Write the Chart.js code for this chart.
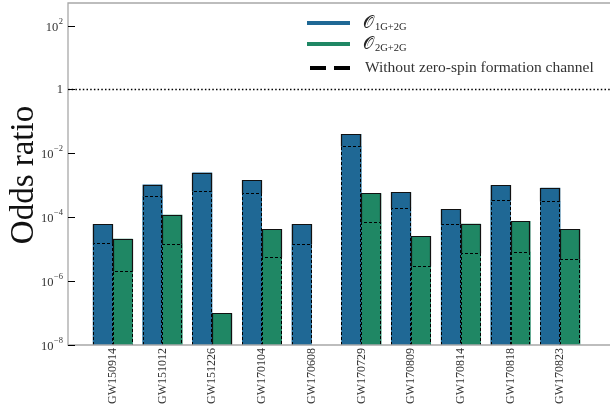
<!DOCTYPE html>
<html>
<head>
<meta charset="utf-8">
<script src="https://cdn.jsdelivr.net/npm/chart.js@4.4.0/dist/chart.umd.min.js"></script>
<style>
  html, body { margin: 0; padding: 0; background: #fff; }
  #wrap { width: 610px; height: 407px; }
</style>
</head>
<body>
<div id="wrap"><canvas id="oddsChart"></canvas></div>
<script>
const events = ['GW150914','GW151012','GW151226','GW170104','GW170608','GW170729','GW170809','GW170814','GW170818','GW170823'];
const odds1G = [6.0e-5, 1.05e-3, 2.5e-3, 1.45e-3, 6.0e-5, 4.0e-2, 6.0e-4, 1.8e-4, 1.0e-3, 8.3e-4];
const odds1GNoZero = [1.6e-5, 4.6e-4, 6.5e-4, 5.9e-4, 1.4e-5, 1.7e-2, 2.0e-4, 6.0e-5, 3.5e-4, 3.2e-4];
const odds2G = [2.1e-5, 1.2e-4, 9.7e-8, 4.2e-5, null, 5.6e-4, 2.6e-5, 6.2e-5, 7.6e-5, 4.2e-5];
const odds2GNoZero = [2.0e-6, 1.5e-5, null, 5.6e-6, null, 6.9e-5, 2.9e-6, 7.5e-6, 8.3e-6, 4.9e-6];
const yTickExps = [-8, -6, -4, -2, 0, 2];

const BLUE = '#1f6895';
const GREEN = '#1f8764';
const SERIF = '"Liberation Serif", "DejaVu Serif", serif';

function points(arr){ return arr.map((v, i) => ({ x: i, y: v })); }

// outlines the "without zero-spin" bars with dashes, plus frame, ticks and legend
const decorations = {
    id: 'decorations',
    afterDatasetsDraw(chart){
        const ctx = chart.ctx;
        const area = chart.chartArea;
        const y = chart.scales.y;

        // solid edges of the full bars (sides stay solid only above the dashed part)
        ctx.save();
        ctx.strokeStyle = '#111';
        ctx.lineWidth = 1.2;
        chart.data.datasets.forEach((ds, di) => {
            if(ds.dashed) return;
            const meta = chart.getDatasetMeta(di);
            const inner = chart.getDatasetMeta(di - 2);
            meta.data.forEach((bar, i) => {
                if(ds.data[i].y == null) return;
                const l = Math.round(bar.x - bar.width / 2) + 0.5;
                const r = Math.round(bar.x + bar.width / 2) - 0.5;
                const t = Math.round(bar.y) + 0.5;
                const low = inner.data[i] && ds.dashedRef && chart.data.datasets[di - 2].data[i].y != null
                    ? Math.round(inner.data[i].y) + 0.5 : bar.base;
                ctx.beginPath();
                ctx.moveTo(l, low);
                ctx.lineTo(l, t);
                ctx.lineTo(r, t);
                ctx.lineTo(r, low);
                ctx.stroke();
            });
        });
        ctx.restore();

        // dashed outlines
        ctx.save();
        ctx.strokeStyle = '#000';
        ctx.lineWidth = 1;
        ctx.setLineDash([3, 2]);
        chart.data.datasets.forEach((ds, di) => {
            if(!ds.dashed) return;
            const meta = chart.getDatasetMeta(di);
            meta.data.forEach((bar, i) => {
                if(ds.data[i].y == null) return;
                const l = Math.round(bar.x - bar.width / 2) + 0.5;
                const r = Math.round(bar.x + bar.width / 2) - 0.5;
                const t = Math.round(bar.y) + 0.5;
                ctx.beginPath();
                ctx.moveTo(l, bar.base);
                ctx.lineTo(l, t);
                ctx.lineTo(r, t);
                ctx.lineTo(r, bar.base);
                ctx.stroke();
            });
        });
        ctx.restore();

        // dotted reference line at odds = 1
        ctx.save();
        const y1 = Math.round(y.getPixelForValue(1)) + 0.5;
        ctx.strokeStyle = '#000';
        ctx.lineWidth = 1.4;
        ctx.setLineDash([1.5, 2.2]);
        ctx.beginPath();
        ctx.moveTo(area.left, y1);
        ctx.lineTo(area.right, y1);
        ctx.stroke();
        ctx.restore();

        // frame
        ctx.save();
        ctx.strokeStyle = '#a8a8a8';
        ctx.lineWidth = 1.3;
        ctx.beginPath();
        ctx.moveTo(area.right, area.top);
        ctx.lineTo(area.left, area.top);
        ctx.lineTo(area.left, area.bottom);
        ctx.lineTo(area.right, area.bottom);
        ctx.stroke();
        ctx.restore();

        // inward y ticks and labels
        ctx.save();
        ctx.strokeStyle = '#000';
        ctx.lineWidth = 1;
        ctx.fillStyle = '#333';
        ctx.textBaseline = 'middle';
        ctx.textAlign = 'right';
        yTickExps.forEach(e => {
            const py = Math.round(y.getPixelForValue(Math.pow(10, e))) + 0.5;
            ctx.beginPath();
            ctx.moveTo(area.left, py);
            ctx.lineTo(area.left + 7, py);
            ctx.stroke();
            const right = area.left - 5;
            if(e === 0){
                ctx.font = '12.5px ' + SERIF;
                ctx.fillText('1', right, py);
            } else {
                const sup = e < 0 ? '\u2212' + Math.abs(e) : String(e);
                ctx.font = '8.5px ' + SERIF;
                const w = ctx.measureText(sup).width;
                ctx.fillText(sup, right, py - 5);
                ctx.font = '12.5px ' + SERIF;
                ctx.fillText('10', right - w - 0.5, py + 1);
            }
        });
        ctx.restore();

        // y axis title
        ctx.save();
        ctx.translate(33, 175);
        ctx.rotate(-Math.PI / 2);
        ctx.fillStyle = '#111';
        ctx.font = '33px ' + SERIF;
        ctx.textAlign = 'center';
        ctx.textBaseline = 'alphabetic';
        ctx.fillText('Odds ratio', 0, 0);
        ctx.restore();

        // legend
        ctx.save();
        const rows = [
            { color: BLUE, sub: '1G+2G', y: 23 },
            { color: GREEN, sub: '2G+2G', y: 44 }
        ];
        rows.forEach(row => {
            ctx.strokeStyle = row.color;
            ctx.lineWidth = 4;
            ctx.beginPath();
            ctx.moveTo(307, row.y);
            ctx.lineTo(350, row.y);
            ctx.stroke();
            ctx.fillStyle = '#222';
            ctx.textBaseline = 'alphabetic';
            ctx.textAlign = 'left';
            ctx.font = '17px ' + SERIF;
            ctx.fillText('\u{1D4AA}', 363, row.y + 5);
            const ow = ctx.measureText('\u{1D4AA}').width;
            ctx.font = '10.5px ' + SERIF;
            ctx.fillText(row.sub, 363 + ow + 1, row.y + 7);
        });
        ctx.strokeStyle = '#000';
        ctx.lineWidth = 4;
        ctx.setLineDash([16, 8]);
        ctx.beginPath();
        ctx.moveTo(310, 68);
        ctx.lineTo(350, 68);
        ctx.stroke();
        ctx.setLineDash([]);
        ctx.fillStyle = '#333';
        ctx.font = '15.5px ' + SERIF;
        ctx.textBaseline = 'middle';
        ctx.fillText('Without zero-spin formation channel', 365, 68);
        ctx.restore();
    }
};

const canvas = document.getElementById('oddsChart');
new Chart(canvas.getContext('2d'), {
    type: 'bar',
    data: {
        datasets: [
            { label: 'no zero-spin 1G', data: points(odds1GNoZero), stack: 'a', order: 0, dashed: true,
              backgroundColor: BLUE, borderWidth: 0 },
            { label: 'no zero-spin 2G', data: points(odds2GNoZero), stack: 'b', order: 0, dashed: true,
              backgroundColor: GREEN, borderWidth: 0 },
            { label: 'O 1G+2G', data: points(odds1G), stack: 'a', order: 1, dashedRef: true,
              backgroundColor: BLUE, borderWidth: 0 },
            { label: 'O 2G+2G', data: points(odds2G), stack: 'b', order: 1, dashedRef: true,
              backgroundColor: GREEN, borderWidth: 0 }
        ]
    },
    options: {
        responsive: true,
        maintainAspectRatio: false,
        animation: false,
        categoryPercentage: 0.8,
        barPercentage: 1,
        layout: { padding: { top: 3, right: 0, left: 0, bottom: 0 } },
        plugins: { legend: { display: false }, tooltip: { enabled: false } },
        scales: {
            x: {
                type: 'linear',
                min: -0.9,
                max: 10,
                offset: false,
                grid: { display: false, drawTicks: false },
                border: { display: false },
                afterBuildTicks: s => { s.ticks = events.map((_, i) => ({ value: i })); },
                afterFit: s => { s.height = 62; },
                ticks: {
                    autoSkip: false,
                    minRotation: 90,
                    maxRotation: 90,
                    padding: 3,
                    color: '#333',
                    font: { family: SERIF, size: 12 },
                    callback: v => events[v] || ''
                }
            },
            y: {
                type: 'logarithmic',
                min: 1e-8,
                max: 508,
                bounds: 'data',
                stacked: false,
                grid: { display: false },
                border: { display: false },
                afterBuildTicks: s => { s.ticks = yTickExps.map(e => ({ value: Math.pow(10, e) })); },
                afterFit: s => { s.width = 68; },
                ticks: { display: false }
            }
        }
    },
    plugins: [decorations]
});
</script>
</body>
</html>
